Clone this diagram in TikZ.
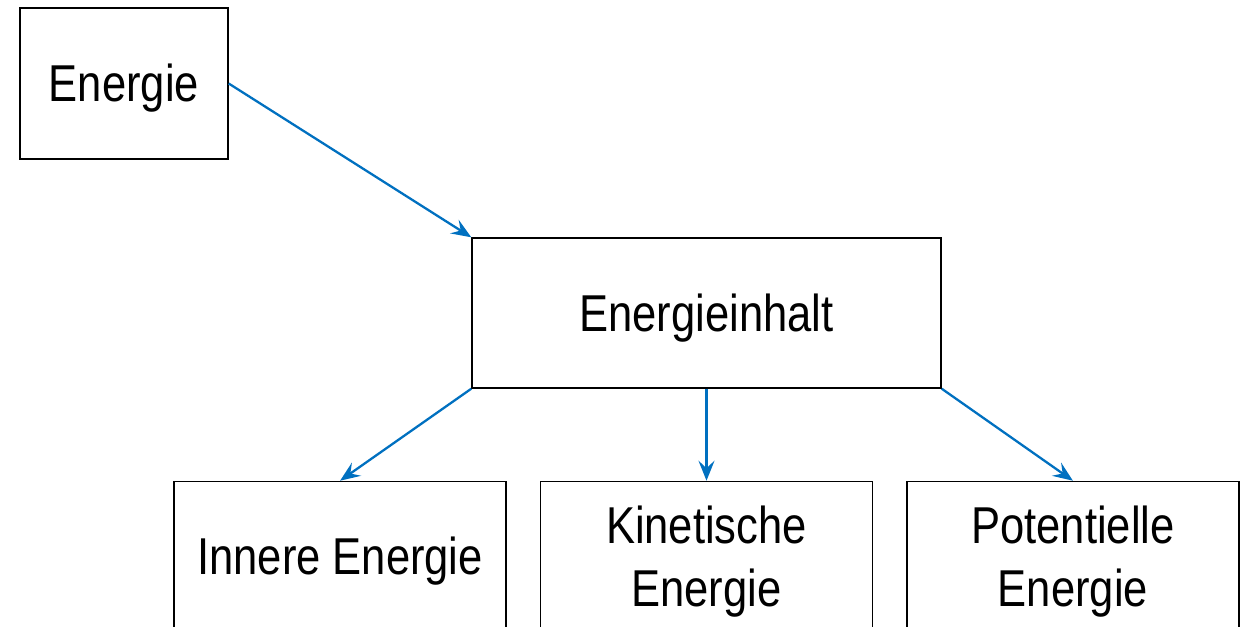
\documentclass[tikz,border=0pt]{standalone}
\usepackage{fontspec}
\setmainfont{Liberation Sans}[FakeStretch=0.84]
\usepackage{xcolor}
\definecolor{arrowBlue}{RGB}{0,112,192}
\usetikzlibrary{positioning,arrows.meta}
\tikzset{
  ebox/.style={rectangle,draw=black,line width=0.8pt,fill=white,
    align=center,minimum height=3cm,minimum width=#1,text height=27pt,
    font=\fontsize{29.5}{36}\selectfont},
  ebox/.default=6.64cm,
  twoline/.style={text height=63pt},
  arrow/.style={-{Stealth[length=4mm,width=3.2mm,inset=1.5mm]},draw=arrowBlue,line width=1.3pt}
}
\begin{document}
\begin{tikzpicture}[node distance=1.84cm and 0.66cm]
  \clip (0,0) rectangle (24.94,-12.52);
  \node[ebox=4.16cm, minimum height=3.02cm] (energie) at (2.48,-1.67) {Energie};
  \node[ebox=9.38cm] (inhalt) at (14.13,-6.26) {Energieinhalt};

  \node[ebox, twoline, below=of inhalt] (kin) {Kinetische\\Energie};
  \node[ebox, left=of kin] (inner) {Innere Energie};
  \node[ebox, twoline, right=of kin] (pot) {Potentielle\\Energie};

  \draw[arrow] (energie.east) -- (inhalt.north west);
  \draw[arrow] (inhalt.south west) -- (inner.north);
  \draw[arrow] (inhalt.south) -- (kin.north);
  \draw[arrow] (inhalt.south east) -- (pot.north);
\end{tikzpicture}
\end{document}
